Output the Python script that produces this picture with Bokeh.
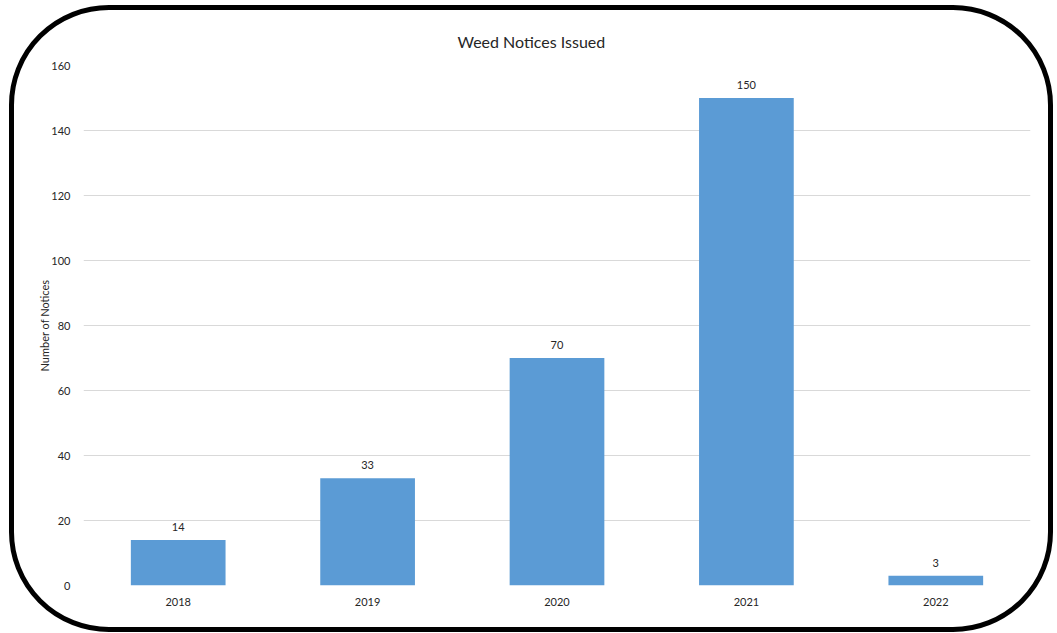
from bokeh.plotting import figure
from bokeh.models import Range1d, FactorRange, FixedTicker, ColumnDataSource
from bokeh.core.properties import value
from bokeh.embed import file_html
from bokeh.resources import INLINE

years = ["2018", "2019", "2020", "2021", "2022"]
notices = [14, 33, 70, 150, 3]
y_ticks = [0, 20, 40, 60, 80, 100, 120, 140, 160]

FONT = "Lato"
src = ColumnDataSource(dict(x=years, y=notices, lab=[str(v) for v in notices]))

border_css = """
:host { position: relative; }
:host::after {
  content: "";
  position: absolute;
  left: 9px; top: 5px; right: 4px; bottom: 1px;
  border: 5px solid black;
  border-radius: 100px;
  pointer-events: none;
  z-index: 100;
}
"""

p = figure(width=1057, height=633, output_backend="svg", toolbar_location=None,
           x_range=FactorRange(*years, range_padding=0), y_range=Range1d(0, 160),
           min_border_left=83, min_border_right=27, min_border_top=65, min_border_bottom=48,
           title="Weed Notices Issued", stylesheets=[border_css])
p.outline_line_color = None
p.background_fill_color = "white"
p.border_fill_color = "white"

p.title.align = "left"
p.title.offset = 374
p.title.text_font = FONT
p.title.text_font_size = "16px"
p.title.text_font_style = "normal"
p.title.text_color = "#262626"
p.title.standoff = 30

p.vbar(x="x", top="y", width=0.5, source=src, fill_color="#5B9BD5", line_color=None)
p.text(x="x", y="y", text="lab", source=src, y_offset=-9, text_align="center",
       text_baseline="bottom", text_font=value(FONT), text_font_size="11px", text_color="#262626")

p.xgrid.grid_line_color = None
p.ygrid.grid_line_color = "#D9D9D9"
p.ygrid.grid_line_width = 1

p.yaxis.ticker = FixedTicker(ticks=y_ticks)
for ax in (p.xaxis[0], p.yaxis[0]):
    ax.axis_line_color = None
    ax.major_tick_line_color = None
    ax.minor_tick_line_color = None
    ax.major_label_text_font = FONT
    ax.major_label_text_font_size = "11px"
    ax.major_label_text_color = "#262626"
p.yaxis.major_label_standoff = 7
p.xaxis.major_label_standoff = 6
p.yaxis.axis_label = "Number of Notices"
p.yaxis.axis_label_text_font = FONT
p.yaxis.axis_label_text_font_size = "11px"
p.yaxis.axis_label_text_font_style = "normal"
p.yaxis.axis_label_text_color = "#262626"
p.yaxis.axis_label_standoff = -3

open("out.html", "w").write(file_html(p, INLINE))
